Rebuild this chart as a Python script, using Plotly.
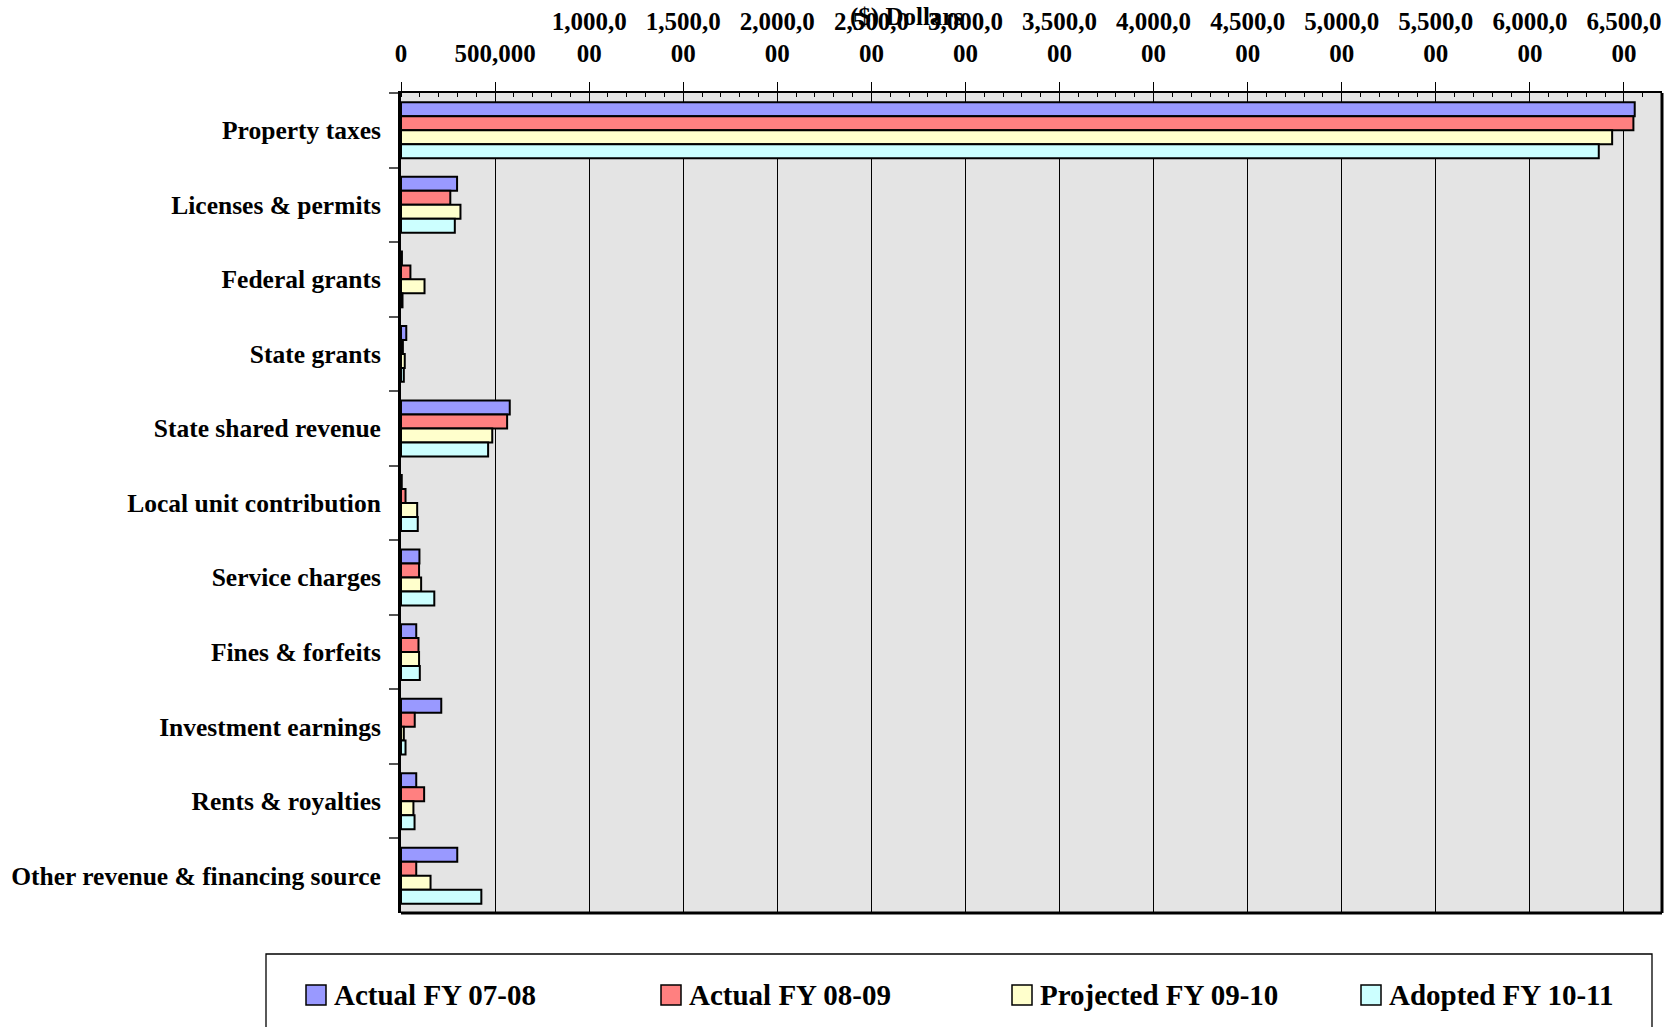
import plotly.graph_objects as go

# ---- data -------------------------------------------------------------
categories = [
    "Property taxes",
    "Licenses & permits",
    "Federal grants",
    "State grants",
    "State shared revenue",
    "Local unit contribution",
    "Service charges",
    "Fines & forfeits",
    "Investment earnings",
    "Rents & royalties",
    "Other revenue & financing source",
]

series_names = ["Actual FY 07-08", "Actual FY 08-09", "Projected FY 09-10", "Adopted FY 10-11"]

actual_fy0708 = [6557000, 298000, 5000, 28000, 578000, 4000, 98000, 81000, 214000, 81000, 299000]
actual_fy0809 = [6550000, 262000, 50000, 10000, 564000, 24000, 96000, 93000, 73000, 123000, 81000]
projected_fy0910 = [6437000, 316000, 125000, 20000, 485000, 86000, 107000, 96000, 15000, 66000, 157000]
adopted_fy1011 = [6366000, 286000, 8000, 15000, 463000, 89000, 177000, 100000, 24000, 72000, 427000]

tick_values = [0, 500000, 1000000, 1500000, 2000000, 2500000, 3000000, 3500000,
               4000000, 4500000, 5000000, 5500000, 6000000, 6500000]
tick_labels = ["0", "500,000", "1,000,0<br>00", "1,500,0<br>00", "2,000,0<br>00",
               "2,500,0<br>00", "3,000,0<br>00", "3,500,0<br>00", "4,000,0<br>00",
               "4,500,0<br>00", "5,000,0<br>00", "5,500,0<br>00", "6,000,0<br>00",
               "6,500,0<br>00"]

colors = ["#9999FF", "#FF8080", "#FFFFCC", "#CCFFFF"]
all_series = [actual_fy0708, actual_fy0809, projected_fy0910, adopted_fy1011]

# ---- page geometry (pixels) -------------------------------------------
W, H = 1674, 1027
L, R, T, B = 401, 12, 93, 114
PW, PH = W - L - R, H - T - B


def px(x):
    return (x - L) / PW


def py(y):
    return (H - B - y) / PH


FONT = "Liberation Serif"

fig = go.Figure()
for name, vals, col in zip(series_names, all_series, colors):
    fig.add_trace(go.Bar(
        y=categories, x=vals, orientation="h", name=name,
        marker=dict(color=col, line=dict(color="black", width=2)),
        showlegend=False,
    ))

shapes = [
    # heavy frame on bottom and right of the plot area
    dict(type="line", xref="paper", yref="paper", x0=0, x1=1, y0=0, y1=0,
         line=dict(color="black", width=3), layer="above"),
    dict(type="line", xref="paper", yref="paper", x0=1, x1=1, y0=0, y1=1,
         line=dict(color="black", width=3), layer="above"),
    # legend box
    dict(type="rect", xref="paper", yref="paper", x0=px(266), x1=px(1652),
         y0=py(1045), y1=py(954), line=dict(color="black", width=1.3),
         fillcolor="white"),
]

annotations = [
    dict(text="($) Dollars", xref="paper", yref="paper", x=px(906), y=py(17),
         xanchor="center", yanchor="middle", showarrow=False,
         font=dict(family=FONT, size=25, color="black", weight="bold")),
]

legend_left = [306, 661, 1012, 1361]
for name, col, x0 in zip(series_names, colors, legend_left):
    shapes.append(dict(type="rect", xref="paper", yref="paper",
                       x0=px(x0), x1=px(x0 + 20), y0=py(1005), y1=py(985),
                       fillcolor=col, line=dict(color="black", width=1.5)))
    annotations.append(dict(text=name, xref="paper", yref="paper",
                            x=px(x0 + 26), y=py(995), xanchor="left",
                            yanchor="middle", showarrow=False,
                            font=dict(family=FONT, size=29, color="black",
                                      weight="bold")))

fig.update_layout(
    width=W, height=H,
    margin=dict(l=L, r=R, t=T, b=B, pad=0),
    paper_bgcolor="white",
    plot_bgcolor="#e4e4e4",
    barmode="group",
    bargap=0.25,
    bargroupgap=0,
    showlegend=False,
    shapes=shapes,
    annotations=annotations,
    xaxis=dict(
        side="top",
        automargin=False,
        range=[0, 6702000],
        tickmode="array",
        tickvals=tick_values,
        ticktext=tick_labels,
        tickfont=dict(family=FONT, size=25, color="black", weight="bold"),
        ticks="outside", ticklen=9, tickwidth=1, tickcolor="black",
        ticklabelstandoff=10,
        showgrid=True, gridcolor="black", gridwidth=1,
        showline=True, linecolor="black", linewidth=2,
        zeroline=False,
        minor=dict(ticks="inside", ticklen=4, tick0=0, dtick=100000,
                   tickcolor="black", tickwidth=1, showgrid=False),
    ),
    yaxis=dict(
        autorange="reversed",
        automargin=False,
        tickson="boundaries",
        ticks="outside", ticklen=9, tickwidth=2, tickcolor="#555555",
        showline=True, linecolor="black", linewidth=3,
        showgrid=False, zeroline=False,
        tickfont=dict(family=FONT, size=25.5, color="black", weight="bold"),
        ticklabelstandoff=12,
    ),
)

fig.write_html("out.html")
